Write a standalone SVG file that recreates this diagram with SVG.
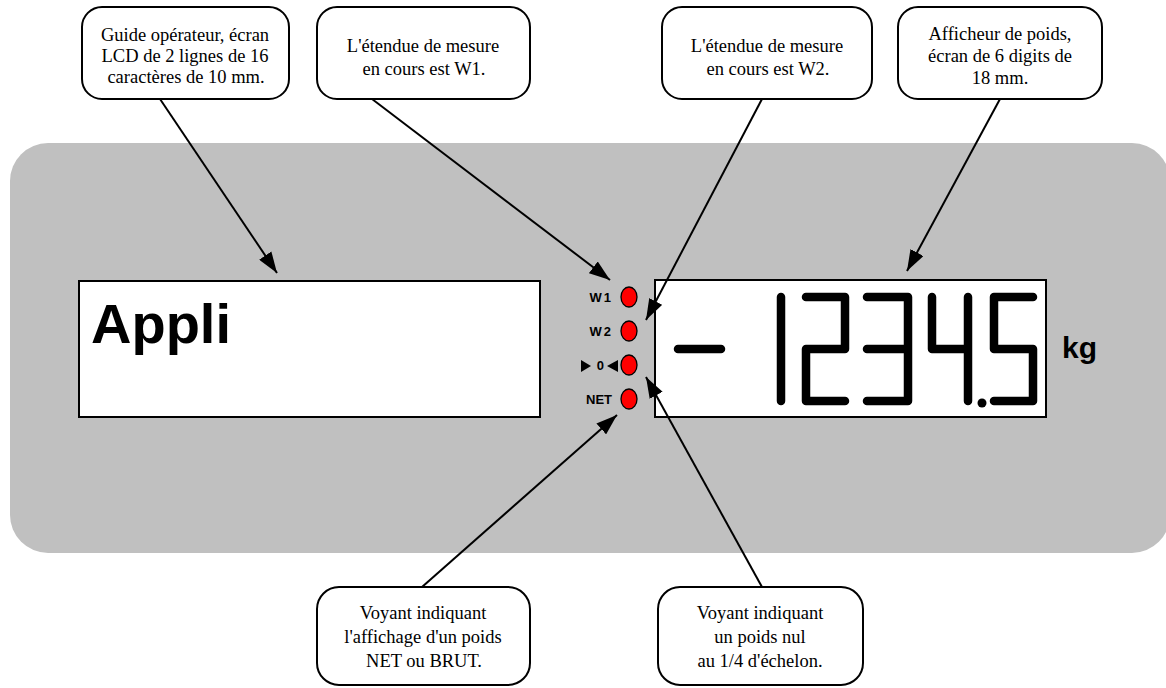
<svg xmlns="http://www.w3.org/2000/svg" width="1166" height="688" viewBox="0 0 1166 688">
<defs>
<marker id="ah" viewBox="0 0 10 7" refX="10" refY="3.5" markerWidth="10.5" markerHeight="7.5" markerUnits="strokeWidth" orient="auto">
<path d="M0,0 L10,3.5 L0,7 z" fill="#000"/>
</marker>
<style>
.box{fill:#fff;stroke:#000;stroke-width:2}
.t{font-family:"Liberation Serif","Times New Roman",serif;font-size:18.5px;fill:#000;text-anchor:middle}
.seg{fill:none;stroke:#000;stroke-width:8.5;stroke-linecap:round;stroke-linejoin:round}
.led{fill:#ff0000;stroke:#000;stroke-width:1.3}
.lab{font-family:"Liberation Sans",Arial,sans-serif;font-weight:bold;font-size:13px;fill:#000;text-anchor:end}
.c{stroke:#000;stroke-width:2;fill:none;marker-end:url(#ah)}
</style>
</defs>
<rect id="panel" x="10" y="143" width="1160" height="410" rx="38" fill="#c0c0c0"/>
<g id="lcd">
<rect x="79" y="281" width="461" height="136" fill="#fff" stroke="#000" stroke-width="2"/>
<text x="91" y="343" font-family="Liberation Sans,Arial,sans-serif" font-weight="bold" font-size="56">Appli</text>
</g>
<g id="weight">
<rect x="655" y="280" width="391" height="137" fill="#fff" stroke="#000" stroke-width="2"/>
<path class="seg" d="M678,349 H721"/>
<path class="seg" d="M781,297 V401"/>
<path class="seg" d="M806,297 H845 V349 H806 V401 H845"/>
<path class="seg" d="M867,297 H908 V401 H867 M867,349 H908"/>
<path class="seg" d="M932,297 V349 H968 M968,297 V401"/>
<circle cx="982" cy="403" r="4.5" fill="#000"/>
<path class="seg" d="M1033,297 H994 V349 H1033 V401 H994"/>
<text x="1062" y="358" font-family="Liberation Sans,Arial,sans-serif" font-weight="bold" font-size="30">kg</text>
</g>
<g id="leds">
<text class="lab" x="613" y="302" letter-spacing="2">W1</text>
<ellipse class="led" cx="629" cy="297" rx="8" ry="10"/>
<text class="lab" x="613" y="336" letter-spacing="2">W2</text>
<ellipse class="led" cx="629" cy="331" rx="8" ry="10"/>
<path d="M581,360 L591,366 L581,372 z" fill="#000"/>
<text class="lab" x="604" y="370">0</text>
<path d="M618,360 L607,366 L618,372 z" fill="#000"/>
<ellipse class="led" cx="629" cy="365" rx="8" ry="10"/>
<text class="lab" x="612" y="404">NET</text>
<ellipse class="led" cx="629" cy="399" rx="8" ry="10"/>
</g>
<g id="n1">
<rect class="box" x="82" y="7" width="207" height="92" rx="20"/>
<text class="t" x="185" y="41">Guide opérateur, écran</text>
<text class="t" x="185" y="62">LCD de 2 lignes de 16</text>
<text class="t" x="186" y="83">caractères de 10 mm.</text>
</g>
<g id="n2">
<rect class="box" x="317" y="7" width="213" height="92" rx="20"/>
<text class="t" x="423" y="52">L'étendue de mesure</text>
<text class="t" x="424" y="75">en cours est W1.</text>
</g>
<g id="n3">
<rect class="box" x="662" y="7" width="210" height="92" rx="20"/>
<text class="t" x="767" y="52">L'étendue de mesure</text>
<text class="t" x="768" y="75">en cours est W2.</text>
</g>
<g id="n4">
<rect class="box" x="898" y="7" width="204" height="92" rx="20"/>
<text class="t" x="1000" y="40">Afficheur de poids,</text>
<text class="t" x="1000" y="62">écran de 6 digits de</text>
<text class="t" x="1000" y="84">18 mm.</text>
</g>
<g id="n5">
<rect class="box" x="317" y="587" width="213" height="98" rx="22"/>
<text class="t" x="423" y="619">Voyant indiquant</text>
<text class="t" x="423" y="643">l'affichage d'un poids</text>
<text class="t" x="424" y="667">NET ou BRUT.</text>
</g>
<g id="n6">
<rect class="box" x="658" y="587" width="205" height="98" rx="22"/>
<text class="t" x="760" y="619">Voyant indiquant</text>
<text class="t" x="760" y="643">un poids nul</text>
<text class="t" x="760" y="667">au 1/4 d'échelon.</text>
</g>
<g id="connectors">
<line class="c" x1="160" y1="99" x2="277" y2="273"/>
<line class="c" x1="372" y1="99" x2="610" y2="280"/>
<line class="c" x1="762" y1="99" x2="646" y2="320"/>
<line class="c" x1="1000" y1="99" x2="907" y2="271"/>
<line class="c" x1="422" y1="587" x2="617" y2="415"/>
<line class="c" x1="762" y1="587" x2="646" y2="377"/>
</g>
</svg>
